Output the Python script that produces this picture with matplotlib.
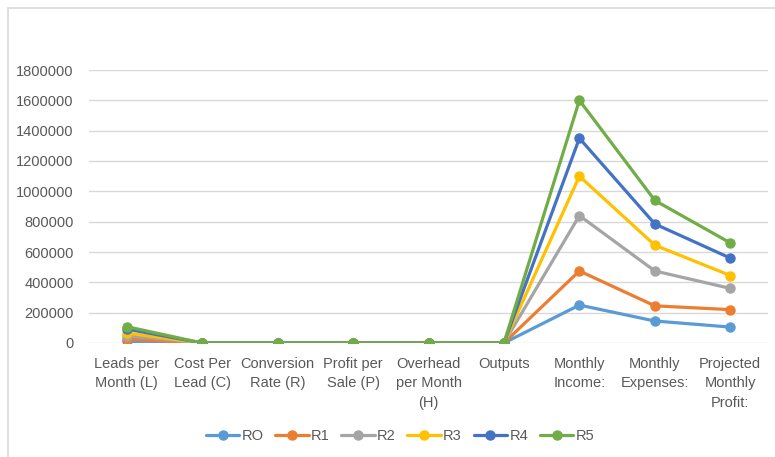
import matplotlib.pyplot as plt
from matplotlib.patches import Rectangle

categories = ['Leads per\nMonth (L)', 'Cost Per\nLead (C)', 'Conversion\nRate (R)',
              'Profit per\nSale (P)', 'Overhead\nper Month\n(H)', 'Outputs',
              'Monthly\nIncome:', 'Monthly\nExpenses:', 'Projected\nMonthly\nProfit:']

series_names = ['RO', 'R1', 'R2', 'R3', 'R4', 'R5']
r0 = [11000, 0, 0, 0, 0, 0, 250000, 145000, 105000]
r1 = [26000, 0, 0, 0, 0, 0, 475000, 245000, 220000]
r2 = [48000, 0, 0, 0, 0, 0, 840000, 475000, 360000]
r3 = [66000, 0, 0, 0, 0, 0, 1100000, 645000, 445000]
r4 = [92000, 0, 0, 0, 0, 0, 1350000, 785000, 560000]
r5 = [108000, 0, 0, 0, 0, 0, 1600000, 940000, 660000]
all_series = [r0, r1, r2, r3, r4, r5]
colors = ['#5B9BD5', '#ED7D31', '#A5A5A5', '#FFC000', '#4472C4', '#70AD47']

plt.rcParams['font.family'] = ['Liberation Sans', 'DejaVu Sans']

fig = plt.figure(figsize=(7.75, 4.57), dpi=100)
ax = fig.add_axes([89 / 775, 1 - 343 / 457, 679 / 775, 273 / 457])

# chart frame (only left and top edges visible in the crop)
fig.patches.append(Rectangle((8 / 775, -0.1), 1.2, 1 - 8 / 457 + 0.1,
                             transform=fig.transFigure, fill=False,
                             edgecolor='#D9D9D9', linewidth=1.2))

x = list(range(len(categories)))
for name, vals, c in zip(series_names, all_series, colors):
    ax.plot(x, vals, color=c, linewidth=2.3, marker='o', markersize=6.5,
            label=name, solid_capstyle='round')

ax.set_xlim(-0.5, len(categories) - 0.5)
ax.set_ylim(0, 1800000)
ax.set_yticks(range(0, 1800001, 200000))
ax.set_yticklabels([str(v) for v in range(0, 1800001, 200000)])
ax.set_xticks(x)
ax.set_xticklabels(categories, linespacing=1.5)
ax.yaxis.grid(True, color='#D9D9D9', linewidth=1)
ax.set_axisbelow(True)
for s in ax.spines.values():
    s.set_visible(False)
ax.tick_params(length=0, colors='#595959', labelsize=10.5)
ax.tick_params(axis='y', pad=11)
ax.tick_params(axis='x', pad=10)

fig.legend(loc='center', bbox_to_anchor=(400 / 775, 1 - 436 / 457), ncol=6,
           frameon=False, fontsize=10.5, labelcolor='#595959', handlelength=2.3,
           columnspacing=0.8, handletextpad=0.15)

fig.savefig('out.png', dpi=100)
